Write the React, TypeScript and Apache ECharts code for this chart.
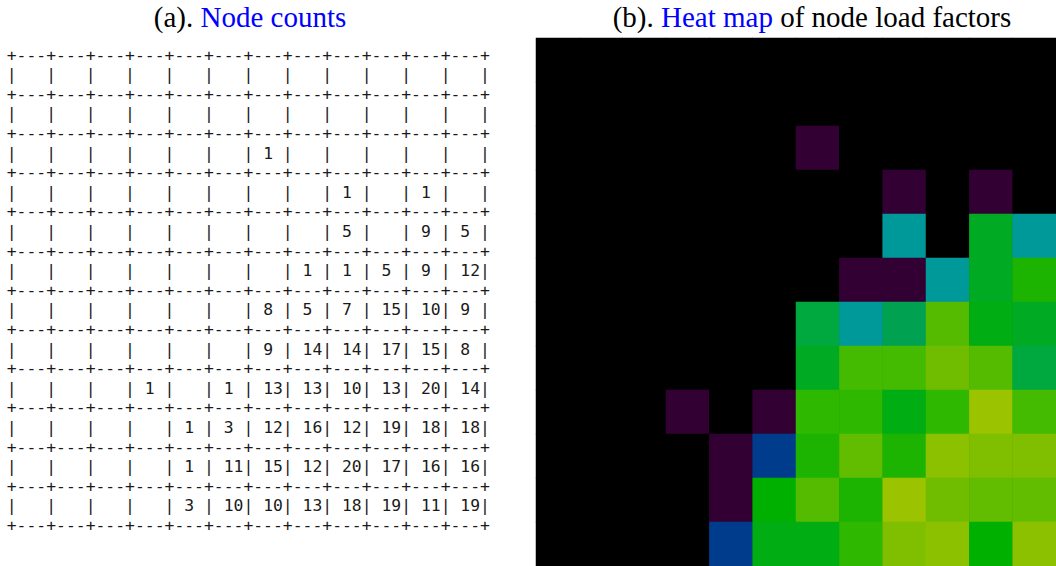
import React, { useEffect, useRef } from "react";
import * as echarts from "echarts";

// Grid columns / rows (12 x 12 nodes)
const colIds = ["0", "1", "2", "3", "4", "5", "6", "7", "8", "9", "10", "11"];
const rowIds = ["0", "1", "2", "3", "4", "5", "6", "7", "8", "9", "10", "11"];

// Node counts per grid row, top to bottom (0 = empty cell)
const row0 = [0, 0, 0, 0, 0, 0, 0, 0, 0, 0, 0, 0];
const row1 = [0, 0, 0, 0, 0, 0, 0, 0, 0, 0, 0, 0];
const row2 = [0, 0, 0, 0, 0, 0, 1, 0, 0, 0, 0, 0];
const row3 = [0, 0, 0, 0, 0, 0, 0, 0, 1, 0, 1, 0];
const row4 = [0, 0, 0, 0, 0, 0, 0, 0, 5, 0, 9, 5];
const row5 = [0, 0, 0, 0, 0, 0, 0, 1, 1, 5, 9, 12];
const row6 = [0, 0, 0, 0, 0, 0, 8, 5, 7, 15, 10, 9];
const row7 = [0, 0, 0, 0, 0, 0, 9, 14, 14, 17, 15, 8];
const row8 = [0, 0, 0, 1, 0, 1, 13, 13, 10, 13, 20, 14];
const row9 = [0, 0, 0, 0, 1, 3, 12, 16, 12, 19, 18, 18];
const row10 = [0, 0, 0, 0, 1, 11, 15, 12, 20, 17, 16, 16];
const row11 = [0, 0, 0, 0, 3, 10, 10, 13, 18, 19, 11, 19];

const countRows = [row0, row1, row2, row3, row4, row5, row6, row7, row8, row9, row10, row11];

// Load-factor palette, indexed by node count
const loadPalette = [
  "#000000", "#330033", "#1c2060", "#003c8c", "#006a92", "#009999",
  "#009e72", "#00a150", "#00a840", "#00aa22", "#00ad12", "#00b000",
  "#1cb400", "#2eb800", "#44bb00", "#55bb00", "#62bc00", "#70bd00",
  "#7fbf00", "#8cc100", "#9cc300",
];

const MONO = "DejaVu Sans Mono";
const SERIF = "Liberation Serif";

const cells: number[][] = [];
countRows.forEach((r, y) => r.forEach((v, x) => cells.push([x, y, v])));

// One ASCII-table cell: top border, left bar, count, plus closing edges on the last column/row
function asciiCell(params: any, api: any) {
  const col = api.value(0) as number;
  const row = api.value(1) as number;
  const v = api.value(2) as number;
  const [cx, cy] = api.coord([col, row]);
  const [w, h] = api.size([1, 1]);
  const cw = w / 4;
  const fontSize = cw / 0.60205;
  const x0 = cx - w / 2 - cw / 2;
  const x1 = cx + w / 2 - cw / 2;
  const lastCol = col === colIds.length - 1;
  const lastRow = row === rowIds.length - 1;
  const mk = (text: string, x: number, y: number) => ({
    type: "text",
    x,
    y,
    style: {
      text,
      fontFamily: MONO,
      fontSize,
      fill: "#1a1a1a",
      align: "left",
      verticalAlign: "middle",
    },
  });
  const children: any[] = [];
  children.push(mk("+---", x0, cy - h / 2));
  children.push(mk("|", x0, cy));
  if (v > 0) children.push(mk(String(v), x0 + 2 * cw, cy));
  if (lastCol) {
    children.push(mk("+", x1, cy - h / 2));
    children.push(mk("|", x1, cy));
  }
  if (lastRow) {
    children.push(mk("+---", x0, cy + h / 2));
    if (lastCol) children.push(mk("+", x1, cy + h / 2));
  }
  return { type: "group", children };
}

export default function App() {
  const ref = useRef<HTMLDivElement>(null);

  useEffect(() => {
    if (!ref.current) return;
    const chart = echarts.init(ref.current, null, { renderer: "svg" });
    const hiddenCat = (gridIndex: number, data: string[], inverse = false) => ({
      type: "category",
      gridIndex,
      data,
      inverse,
      show: false,
      boundaryGap: true,
    });
    const titleRich = {
      k: { fontFamily: SERIF, fontSize: 29, fill: "#000000" },
      b: { fontFamily: SERIF, fontSize: 29, fill: "#0000ff" },
    };
    chart.setOption({
      animation: false,
      backgroundColor: "#ffffff",
      grid: [
        { left: 11.7, top: 55, width: 473.3, height: 470.4 },
        {
          left: 536,
          top: 38,
          width: 528,
          height: 528,
          show: true,
          backgroundColor: "#000000",
          borderWidth: 0,
        },
      ],
      xAxis: [hiddenCat(0, colIds), hiddenCat(1, colIds)],
      yAxis: [hiddenCat(0, rowIds, true), hiddenCat(1, rowIds, true)],
      visualMap: {
        type: "piecewise",
        show: false,
        seriesIndex: 1,
        dimension: 2,
        pieces: loadPalette.map((c, i) => ({ value: i, color: c })),
      },
      graphic: [
        {
          type: "text",
          x: 250,
          y: 17,
          style: {
            text: "{k|(a). }{b|Node counts}",
            align: "center",
            verticalAlign: "middle",
            rich: titleRich,
          },
        },
        {
          type: "text",
          x: 812,
          y: 17,
          style: {
            text: "{k|(b). }{b|Heat map}{k| of node load factors}",
            align: "center",
            verticalAlign: "middle",
            rich: titleRich,
          },
        },
      ],
      series: [
        {
          type: "custom",
          name: "Node counts",
          xAxisIndex: 0,
          yAxisIndex: 0,
          data: cells,
          renderItem: asciiCell,
          silent: true,
        },
        {
          type: "heatmap",
          name: "Load factors",
          xAxisIndex: 1,
          yAxisIndex: 1,
          data: cells,
          itemStyle: { borderWidth: 0 },
          emphasis: { disabled: true },
          silent: true,
        },
      ],
    });
    return () => chart.dispose();
  }, []);

  return (
    <div
      ref={ref}
      style={{ position: "absolute", left: 0, top: 0, width: 1056, height: 566, background: "#fff" }}
    />
  );
}
